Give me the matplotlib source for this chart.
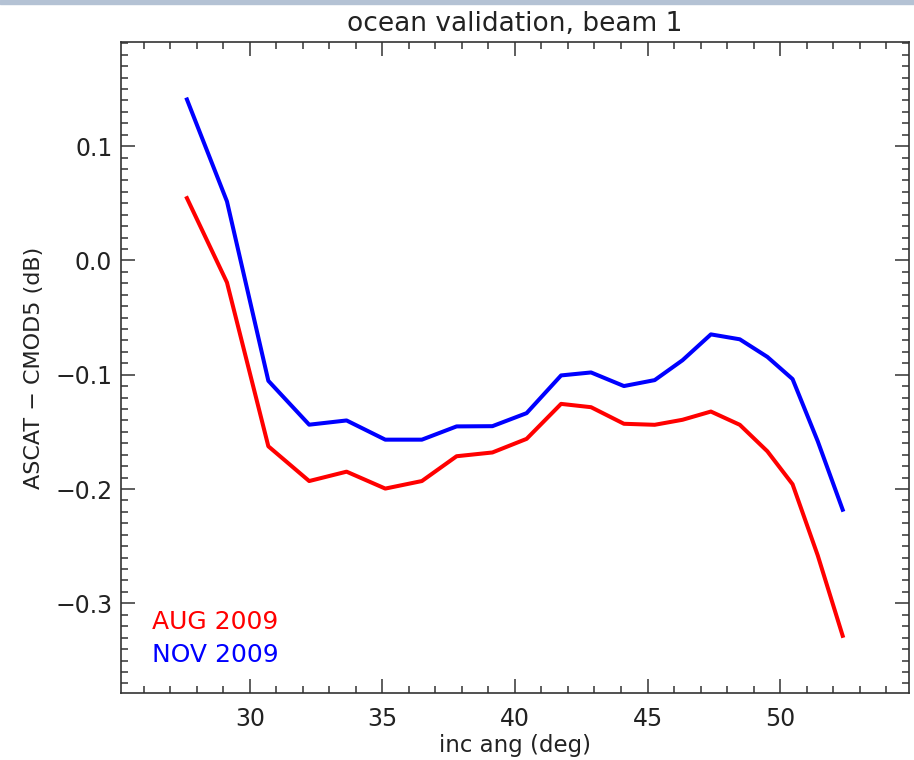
import matplotlib
matplotlib.use("Agg")
import matplotlib.pyplot as plt
from matplotlib.ticker import MultipleLocator, FuncFormatter
from matplotlib.patches import Rectangle

# incidence angle (deg)
inc_ang = [27.63, 29.14, 30.70, 32.24, 33.65, 35.11, 36.49, 37.80, 39.15, 40.44, 41.74,
           42.87, 44.11, 45.27, 46.32, 47.39, 48.48, 49.52, 50.47, 51.42, 52.36]

# ASCAT - CMOD5 (dB)
aug_2009 = [0.0545, -0.0193, -0.1626, -0.1930, -0.1848, -0.1996, -0.1930, -0.1713, -0.1680,
            -0.1561, -0.1255, -0.1284, -0.1429, -0.1438, -0.1394, -0.1322, -0.1438, -0.1670,
            -0.1958, -0.2581, -0.3284]
nov_2009 = [0.1408, 0.0516, -0.1053, -0.1437, -0.1400, -0.1568, -0.1568, -0.1452, -0.1450,
            -0.1336, -0.1006, -0.0980, -0.1099, -0.1047, -0.0873, -0.0647, -0.0690, -0.0844,
            -0.1038, -0.1582, -0.2181]

fig = plt.figure(figsize=(9.14, 7.6), dpi=100)
ax = fig.add_axes([0.132, 0.0882, 0.8625, 0.8561])

ax.plot(inc_ang, aug_2009, color="#ff0000", lw=2.9)
ax.plot(inc_ang, nov_2009, color="#0000ff", lw=2.9)

ax.set_xlim(min(inc_ang) - 2.5, max(inc_ang) + 2.5)
ax.set_ylim(min(aug_2009) - 0.05, max(nov_2009) + 0.05)

ax.xaxis.set_major_locator(MultipleLocator(5))
ax.xaxis.set_minor_locator(MultipleLocator(1))
ax.yaxis.set_major_locator(MultipleLocator(0.1))
ax.yaxis.set_minor_locator(MultipleLocator(0.01))
ax.yaxis.set_major_formatter(FuncFormatter(lambda v, p: ("%.1f" % v).replace("-", "\u2212")))

txtcol = "#222222"
axcol = "#333333"
ax.tick_params(which="both", direction="in", top=True, right=True, colors=axcol,
               labelcolor=txtcol, labelsize=17)
ax.tick_params(which="major", length=10, width=1.1)
ax.tick_params(which="minor", length=5, width=1.1)
ax.tick_params(axis="x", which="major", pad=10)
ax.tick_params(axis="y", which="major", pad=6)
for s in ax.spines.values():
    s.set_color(axcol)
    s.set_linewidth(1.2)

ax.set_title("ocean validation, beam 1", fontsize=19, color=txtcol, pad=8)
ax.set_xlabel("inc ang (deg)", fontsize=16.5, color=txtcol, labelpad=2)
ax.set_ylabel("ASCAT \u2212 CMOD5 (dB)", fontsize=16, color=txtcol, labelpad=8)

ax.text(0.04, 0.098, "AUG 2009", transform=ax.transAxes, color="#ff0000",
        fontsize=18, va="baseline")
ax.text(0.04, 0.048, "NOV 2009", transform=ax.transAxes, color="#0000ff",
        fontsize=18, va="baseline")

# thin window border at the top of the screenshot
fig.patches.append(Rectangle((0, 0.995), 1, 0.005, transform=fig.transFigure,
                             color="#b4c2d4", zorder=0))

fig.savefig("out.png", dpi=100)
